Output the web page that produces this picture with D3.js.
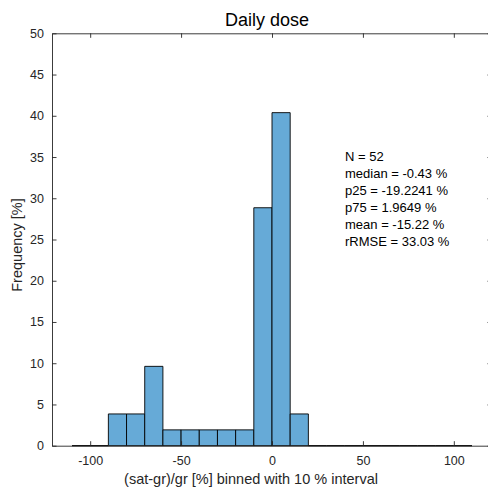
<!DOCTYPE html>
<html>
<head>
<meta charset="utf-8">
<script src="https://cdn.jsdelivr.net/npm/d3@7"></script>
<style>
  html, body { margin: 0; padding: 0; background: #fff; }
  svg { display: block; font-family: "Liberation Sans", Arial, sans-serif; }
</style>
</head>
<body>
<svg id="chart" width="488" height="494"></svg>
<script>
// Histogram of relative differences, 10 % bins
const binStarts = [-110, -100, -90, -80, -70, -60, -50, -40, -30, -20, -10, 0, 10, 20, 30, 40, 50, 60, 70, 80, 90, 100];
const frequency = [0, 0, 3.85, 3.85, 9.62, 1.92, 1.92, 1.92, 1.92, 1.92, 28.85, 40.38, 3.85, 0, 0, 0, 0, 0, 0, 0, 0, 0];
const binWidth = 10;
const xTicks = [-100, -50, 0, 50, 100];
const yTicks = [0, 5, 10, 15, 20, 25, 30, 35, 40, 45, 50];
const statLines = ["N = 52", "median = -0.43 %", "p25 = -19.2241 %", "p75 = 1.9649 %", "mean = -15.22 %", "rRMSE = 33.03 %"];
const titleText = "Daily dose";
const xLabel = "(sat-gr)/gr [%] binned with 10 % interval";
const yLabel = "Frequency [%]";

const svg = d3.select("#chart");
const plotLeft = 52, plotRight = 492, plotTop = 33.3, plotBottom = 445.7;
const x = d3.scaleLinear().domain([-121, 121]).range([plotLeft, plotRight]);
const y = d3.scaleLinear().domain([0, 50]).range([plotBottom, plotTop]);
const axisColor = "#262626";

// bars (drawn as closed paths so empty bins still leave an outline on the baseline)
svg.append("g").selectAll("path")
  .data(binStarts.map((s, i) => ({ s, v: frequency[i] })))
  .join("path")
  .attr("d", d => {
    const p = d3.path();
    p.moveTo(x(d.s), y(0));
    p.lineTo(x(d.s), y(d.v));
    p.lineTo(x(d.s + binWidth), y(d.v));
    p.lineTo(x(d.s + binWidth), y(0));
    p.closePath();
    return p.toString();
  })
  .attr("fill", "rgb(102,170,215)")
  .attr("stroke", "#000")
  .attr("stroke-width", 0.9);

// axes with inward ticks on all four sides
const fmt = d => String(d);
const axisStyle = g => {
  g.select(".domain").attr("stroke", axisColor).attr("stroke-width", 0.9);
  g.selectAll(".tick line").attr("stroke", axisColor).attr("stroke-width", 0.9);
  g.selectAll(".tick text").attr("fill", axisColor).style("font-size", "12.5px")
    .style("font-family", '"Liberation Sans", Arial, sans-serif');
};
svg.append("g").attr("transform", `translate(0,${plotBottom})`)
  .call(d3.axisBottom(x).tickValues(xTicks).tickFormat(fmt).tickSizeInner(-4.5).tickSizeOuter(0).tickPadding(10))
  .call(axisStyle);
svg.append("g").attr("transform", `translate(0,${plotTop})`)
  .call(d3.axisTop(x).tickValues(xTicks).tickFormat("").tickSizeInner(-4.5).tickSizeOuter(0))
  .call(axisStyle);
svg.append("g").attr("transform", `translate(${plotLeft},0)`)
  .call(d3.axisLeft(y).tickValues(yTicks).tickFormat(fmt).tickSizeInner(-4.5).tickSizeOuter(0).tickPadding(8))
  .call(axisStyle);
svg.append("g").attr("transform", `translate(${plotRight},0)`)
  .call(d3.axisRight(y).tickValues(yTicks).tickFormat("").tickSizeInner(-4.5).tickSizeOuter(0))
  .call(axisStyle);

// title and axis labels
svg.append("text").attr("x", 267).attr("y", 25.5)
  .attr("text-anchor", "middle").style("font-size", "18px").attr("fill", "#000").text(titleText);
svg.append("text").attr("x", 251).attr("y", 484)
  .attr("text-anchor", "middle").style("font-size", "14.5px").attr("fill", axisColor).text(xLabel);
svg.append("text").attr("transform", `translate(22,245) rotate(-90)`)
  .attr("text-anchor", "middle").style("font-size", "14.5px").attr("fill", axisColor).text(yLabel);

// summary statistics
svg.append("g").selectAll("text").data(statLines).join("text")
  .attr("x", 345).attr("y", (d, i) => 160.7 + i * 17.06)
  .style("font-size", "13px").attr("fill", "#000").text(d => d);
</script>
</body>
</html>
